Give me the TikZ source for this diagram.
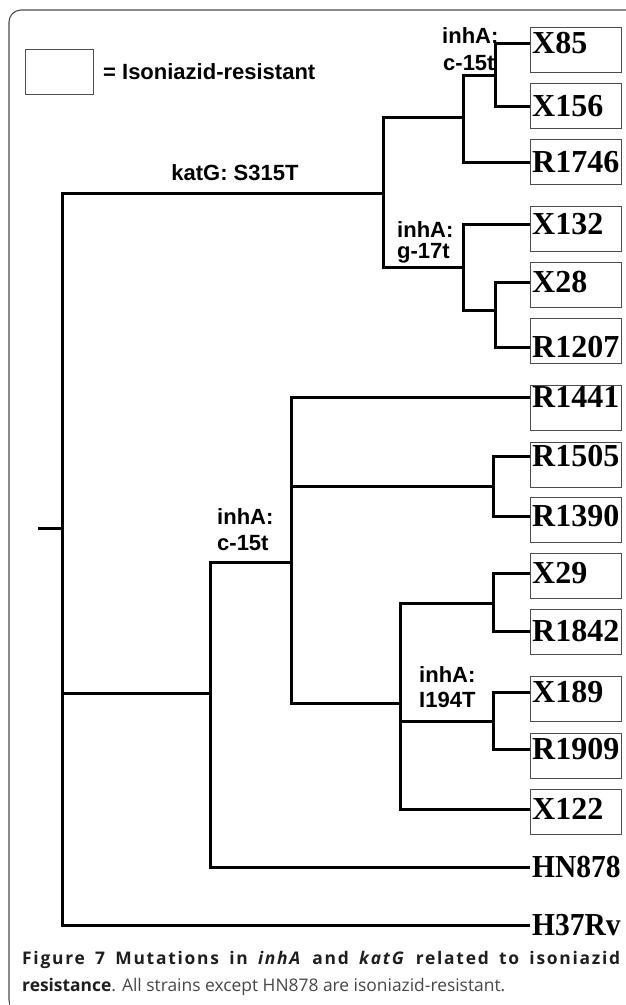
\documentclass[tikz,border=0pt]{standalone}
\usepackage{fontspec}
\setmainfont{Liberation Serif}
\newfontfamily\labfont{Liberation Sans}
\newfontfamily\capfont{Open Sans}
\newfontfamily\capbold{Open Sans Bold}[LetterSpace=10, ItalicFont={Open Sans Bold Italic}]
\begin{document}
\begin{tikzpicture}[x=1pt,y=-1pt,
  branch/.style={line width=3pt, black},
  leaf/.style={anchor=west, inner xsep=2pt, inner ysep=0pt, font=\bfseries\fontsize{32}{32}\selectfont},
  leafbox/.style={draw=black!70, line width=1.2pt, anchor=north west, minimum width=91pt, minimum height=45pt, inner sep=0pt},
  mut/.style={anchor=west, inner sep=0pt, font=\labfont\bfseries\fontsize{22}{22}\selectfont},
  captxt/.style={anchor=west, inner sep=0pt, text=black!80, font=\capfont\fontsize{17.4}{17.4}\selectfont}]
\useasboundingbox (0,0) rectangle (625,1005);
% frame
\draw[black!70, line width=1.1pt, rounded corners=12pt] (630,10) -- (9,10) -- (9,1012) -- (630,1012);
% legend
\node[leafbox, minimum width=68pt] (lgbox) at (25,49) {};
\node[mut] (lgtxt) at (103,72) {= Isoniazid-resistant};
% leaf boxes
\foreach \n/\t in {X85/27, X156/83, R1746/139, X132/206, X28/262, R1207/318, R1441/385, R1505/442, R1390/497, X29/553, R1842/609, X189/676, R1909/733, X122/789}
  \node[leafbox] (b\n) at (530,\t) {};
% leaf labels
\node[leaf] (X85) at (530,43) {X85};
\node[leaf] (X156) at (530,106) {X156};
\node[leaf] (R1746) at (530,162) {R1746};
\node[leaf] (X132) at (530,224) {X132};
\node[leaf] (X28) at (530,282) {X28};
\node[leaf] (R1207) at (530,347) {R1207};
\node[leaf] (R1441) at (530,397) {R1441};
\node[leaf] (R1505) at (530,456) {R1505};
\node[leaf] (R1390) at (530,516) {R1390};
\node[leaf] (X29) at (530,573) {X29};
\node[leaf] (R1842) at (530,631) {R1842};
\node[leaf] (X189) at (530,692) {X189};
\node[leaf] (R1909) at (530,749) {R1909};
\node[leaf] (X122) at (530,809) {X122};
\node[leaf] (HN878) at (530,867) {\scalebox{0.92}[1]{HN878}};
\node[leaf] (H37Rv) at (530,925) {\scalebox{0.92}[1]{H37Rv}};
% mutation labels
\node[mut, anchor=center] (lkat) at (235,173) {katG: S315T};
\node[mut] (lc1a) at (442,36) {inhA:};
\node[mut] (lc1b) at (443,63) {c-15t};
\node[mut] (lg1a) at (397,230) {inhA:};
\node[mut] (lg1b) at (397,253) {g-17t};
\node[mut] (lm1a) at (217,517) {inhA:};
\node[mut] (lm1b) at (217,543) {c-15t};
\node[mut] (li1a) at (419,675) {inhA:};
\node[mut] (li1b) at (419,700) {I194T};
% internal nodes
\coordinate (stub) at (38,528);
\coordinate (root) at (62,528);
\coordinate (K) at (383,193);
\coordinate (C1) at (463,117);
\coordinate (C2) at (495,75);
\coordinate (G1) at (463,267);
\coordinate (G2) at (495,310);
\coordinate (M) at (210,693);
\coordinate (N) at (291,562);
\coordinate (P) at (493,486);
\coordinate (Q) at (400,703);
\coordinate (S) at (493,603);
\coordinate (T) at (493,721);
% branches
\draw[branch] (stub) -- (root);
\draw[branch] (root) |- (K);
\draw[branch] (root) |- (M);
\draw[branch] (root) |- (H37Rv.west);
\draw[branch] (K) |- (C1);
\draw[branch] (K) |- (G1);
\draw[branch] (C1) |- (C2);
\draw[branch] (C1) |- (R1746.west);
\draw[branch] (C2) |- (X85.west);
\draw[branch] (C2) |- (X156.west);
\draw[branch] (G1) |- (X132.west);
\draw[branch] (G1) |- (G2);
\draw[branch] (G2) |- (X28.west);
\draw[branch] (G2) |- (R1207.west);
\draw[branch] (M) |- (N);
\draw[branch] (M) |- (HN878.west);
\draw[branch] (N) |- (R1441.west);
\draw[branch] (N) |- (P);
\draw[branch] (N) |- (Q);
\draw[branch] (P) |- (R1505.west);
\draw[branch] (P) |- (R1390.west);
\draw[branch] (Q) |- (S);
\draw[branch] (Q) |- (T);
\draw[branch] (Q) |- (X122.west);
\draw[branch] (S) |- (X29.west);
\draw[branch] (S) |- (R1842.west);
\draw[branch] (T) |- (X189.west);
\draw[branch] (T) |- (R1909.west);
% caption band
\fill[white] (10,937) rectangle (625,1005);
\node[captxt, text=black!88] (cap1) at (22,960) {\makebox[598pt][s]{\capbold Figure 7 Mutations in \textit{inhA} and \textit{katG} related to isoniazid}};
\node[captxt, text=black!72] (cap2) at (22,987) {\textbf{\color{black!88}resistance}. All strains except HN878 are isoniazid-resistant.};
\end{tikzpicture}
\end{document}
